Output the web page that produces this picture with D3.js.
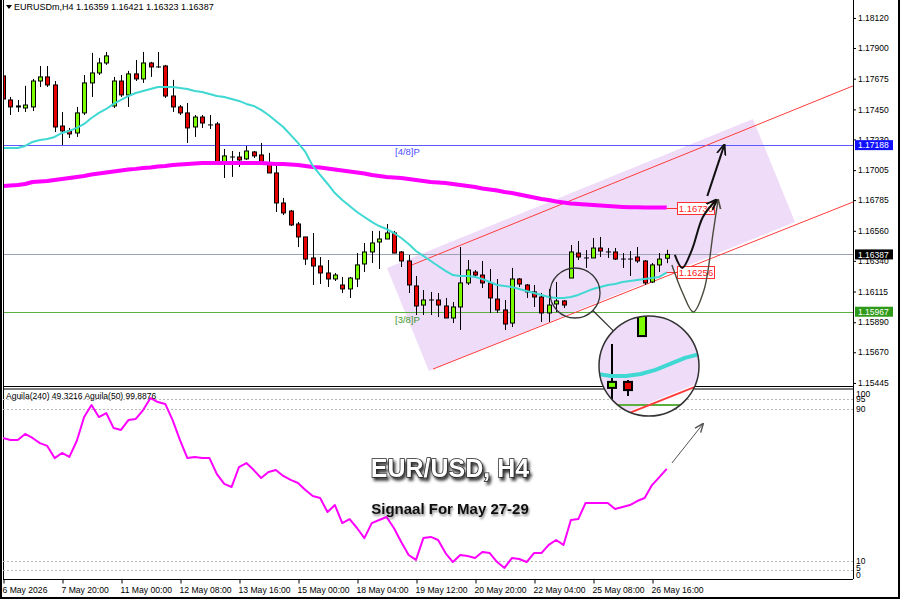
<!DOCTYPE html>
<html><head><meta charset="utf-8">
<script src="https://cdn.jsdelivr.net/npm/d3@7"></script>
<style>
html,body{margin:0;padding:0;background:#fff;}
svg{display:block;font-family:"Liberation Sans",Arial,sans-serif;}
</style></head><body>
<svg id="c" width="900" height="599"></svg>
<script>
// ---------------- DATA ----------------
const symbolHeader = "EURUSDm,H4  1.16359 1.16421 1.16323 1.16387";
const indicatorHeader = "Aguila(240) 49.3216  Aguila(50) 99.8876";
const titleText = "EUR/USD, H4";
const subtitleText = "Signaal For May 27-29";

const priceTicks = [1.18120,1.17900,1.17675,1.17450,1.17230,1.17005,1.16785,1.16560,1.16340,1.16115,1.15890,1.15670,1.15445];
const timeTickBars = [0,8,16,24,32,40,48,56,64,72,80,88];
const timeLabels = ["6 May 2026","7 May 20:00","11 May 00:00","12 May 08:00","13 May 16:00","15 May 00:00","18 May 04:00","19 May 12:00","20 May 20:00","22 May 04:00","25 May 08:00","26 May 16:00"];
const indTicks = [100,95,90,10,5,0];
const indLevels = [95,90,10,5];

const open = [1.17695,1.17519,1.17468,1.17460,1.17468,1.17658,1.17688,1.17629,1.17328,1.17292,
1.17277,1.17424,1.17644,1.17717,1.17790,1.17475,1.17658,1.17556,1.17710,1.17673,
1.17790,1.17761,1.17768,1.17548,1.17468,1.17424,1.17321,1.17394,1.17336,1.17343,
1.17065,1.17101,1.17101,1.17087,1.17138,1.17116,1.17057,1.16984,1.16764,1.16705,
1.16610,1.16515,1.16361,1.16302,1.16251,1.16207,1.16163,1.16134,1.16207,1.16317,
1.16405,1.16478,1.16500,1.16544,1.16405,1.16339,1.16156,1.16016,1.16053,1.16053,
1.16009,1.15921,1.16002,1.16178,1.16258,1.16236,1.16178,1.16060,1.15980,1.15884,
1.16207,1.16163,1.16112,1.16075,1.15958,1.16024,1.16046,1.16214,1.16397,1.16361,
1.16361,1.16434,1.16405,1.16405,1.16353,1.16353,1.16368,1.16339,1.16185,1.16310,
1.16359];
const high = [1.17724,1.17541,1.17519,1.17622,1.17673,1.17768,1.17768,1.17658,1.17431,1.17314,
1.17468,1.17702,1.17864,1.17827,1.17871,1.17688,1.17702,1.17732,1.17812,1.17871,
1.17798,1.17871,1.17776,1.17666,1.17482,1.17497,1.17409,1.17409,1.17409,1.17358,
1.17160,1.17145,1.17138,1.17182,1.17145,1.17204,1.17131,1.17057,1.16801,1.16713,
1.16625,1.16515,1.16544,1.16368,1.16346,1.16251,1.16222,1.16222,1.16397,1.16471,
1.16559,1.16559,1.16610,1.16559,1.16412,1.16383,1.16229,1.16126,1.16112,1.16104,
1.16068,1.16038,1.16441,1.16346,1.16273,1.16339,1.16280,1.16207,1.16053,1.16288,
1.16214,1.16170,1.16163,1.16104,1.16134,1.16185,1.16053,1.16456,1.16485,1.16419,
1.16507,1.16515,1.16434,1.16434,1.16397,1.16412,1.16441,1.16346,1.16324,1.16397,
1.16421];
const low = [1.17504,1.17409,1.17431,1.17431,1.17438,1.17614,1.17614,1.17284,1.17189,1.17240,
1.17248,1.17409,1.17541,1.17702,1.17776,1.17460,1.17541,1.17468,1.17658,1.17644,
1.17688,1.17754,1.17534,1.17431,1.17409,1.17204,1.17248,1.17314,1.17306,1.17057,
1.16947,1.16955,1.17028,1.17079,1.17094,1.17043,1.16984,1.16698,1.16676,1.16595,
1.16441,1.16310,1.16163,1.16170,1.16148,1.16192,1.16104,1.16068,1.16148,1.16258,
1.16324,1.16280,1.16500,1.16397,1.16295,1.16104,1.15943,1.15943,1.15943,1.15928,
1.15921,1.15884,1.15833,1.16163,1.16214,1.16141,1.15958,1.15958,1.15833,1.15855,
1.16148,1.16068,1.16002,1.15892,1.15892,1.15965,1.15994,1.16214,1.16346,1.16288,
1.16361,1.16368,1.16361,1.16346,1.16288,1.16229,1.16324,1.16163,1.16178,1.16258,
1.16323];
const close = [1.17526,1.17468,1.17475,1.17482,1.17658,1.17688,1.17629,1.17321,1.17292,1.17270,
1.17424,1.17644,1.17717,1.17790,1.17842,1.17658,1.17556,1.17710,1.17673,1.17790,
1.17761,1.17761,1.17548,1.17468,1.17424,1.17314,1.17394,1.17350,1.17336,1.17057,
1.17109,1.17101,1.17079,1.17145,1.17109,1.17065,1.16984,1.16764,1.16691,1.16603,
1.16515,1.16353,1.16302,1.16251,1.16207,1.16236,1.16134,1.16214,1.16310,1.16405,
1.16471,1.16500,1.16544,1.16397,1.16339,1.16163,1.16009,1.16053,1.16053,1.16016,
1.15921,1.16002,1.16178,1.16273,1.16236,1.16178,1.16068,1.15980,1.15877,1.16207,
1.16170,1.16112,1.16075,1.15958,1.16016,1.16046,1.16016,1.16405,1.16368,1.16361,
1.16434,1.16412,1.16405,1.16353,1.16353,1.16353,1.16339,1.16178,1.16310,1.16353,
1.16387];

// fast moving average (cyan)
const maFast = [1.17167,1.17167,1.17167,1.17182,1.17211,1.17226,1.17233,1.17248,1.17277,1.17292,
1.17314,1.17343,1.17387,1.17424,1.17453,1.17490,1.17519,1.17548,1.17570,1.17585,
1.17600,1.17614,1.17614,1.17614,1.17607,1.17600,1.17585,1.17578,1.17563,1.17548,
1.17541,1.17526,1.17512,1.17490,1.17475,1.17446,1.17409,1.17365,1.17321,1.17263,
1.17204,1.17138,1.17036,1.16970,1.16905,1.16837,1.16786,1.16742,1.16698,1.16661,
1.16625,1.16595,1.16573,1.16544,1.16507,1.16463,1.16412,1.16376,1.16339,1.16302,
1.16266,1.16236,1.16229,1.16229,1.16222,1.16207,1.16185,1.16163,1.16156,1.16148,
1.16134,1.16119,1.16104,1.16090,1.16075,1.16068,1.16068,1.16075,1.16090,1.16112,
1.16134,1.16148,1.16163,1.16170,1.16185,1.16192,1.16200,1.16207,1.16214,1.16222,
1.16256];
// slow moving average (magenta)
const maSlow = [1.16889,1.16892,1.16896,1.16903,1.16918,1.16922,1.16925,1.16933,1.16940,1.16947,
1.16954,1.16962,1.16973,1.16980,1.16988,1.16995,1.17002,1.17010,1.17014,1.17021,
1.17024,1.17032,1.17035,1.17043,1.17046,1.17050,1.17054,1.17057,1.17057,1.17057,
1.17057,1.17057,1.17057,1.17057,1.17057,1.17057,1.17054,1.17050,1.17050,1.17046,
1.17043,1.17035,1.17028,1.17024,1.17017,1.17010,1.17002,1.16995,1.16988,1.16980,
1.16969,1.16962,1.16954,1.16951,1.16947,1.16940,1.16933,1.16925,1.16918,1.16914,
1.16911,1.16903,1.16896,1.16889,1.16881,1.16870,1.16863,1.16856,1.16845,1.16837,
1.16826,1.16815,1.16804,1.16793,1.16786,1.16775,1.16768,1.16760,1.16757,1.16753,
1.16749,1.16746,1.16742,1.16738,1.16735,1.16733,1.16732,1.16731,1.16731,1.16730,
1.16730];
// Aguila oscillator (lower panel)
const aguila = [74.5,73.4,73.4,76.6,74.5,71.8,70.3,63.9,66.6,64.5,
72.9,85.5,91.8,85.5,87.6,79.7,78.7,83.9,84.5,89.2,
95.5,93.4,92.4,83.9,73.4,63.9,64.5,63.9,63.9,55.5,
50.3,48.7,59.2,61.3,57.6,53.4,56.6,57.6,54.5,52.4,
50.8,47.1,43.9,42.9,35.5,39.2,29.7,31.8,27.1,21.8,
29.7,31.3,32.9,27.1,19.7,12.9,10.3,21.8,22.4,20.8,
13.9,9.2,12.9,12.4,11.3,14.5,13.9,9.2,6.1,11.3,
10.8,9.2,13.9,13.9,18.2,20.8,18.2,31.3,31.8,40.3,
40.3,40.3,40.3,37.1,38.2,39.2,41.3,42.9,49.7,53.9,
58.2];

// horizontal levels: Murrey 4/8, bid, Murrey 3/8
const levelPrices = [1.17188, 1.16387, 1.15967];
const levelNames = ["[4/8]P", "", "[3/8]P"];
// channel drawing objects (bar index, price)
const channelBox = [[52.07,1.16288],[101.69,1.17380],[107.39,1.16625],[57.76,1.15533]];
const channelUpper = [[55.46,1.16310],[115.25,1.17622]];
const channelLower = [[58.31,1.15547],[115.25,1.16771]];
// price tags of the moving averages
const maTags = [1.16730, 1.16256];
// hand-drawn forecast arrows (bar index, price)
const arrowBlack1 = [[91.1,1.16383],[92.1,1.16288],[93.4,1.16419],[94.9,1.16661],[96.7,1.16786]];
const arrowBlack2 = [[95.5,1.16815],[96.7,1.17010],[97.8,1.17189]];
const arrowGray = [[90.7,1.16310],[92.1,1.16112],[93.6,1.15965],[95.05,1.16126],[96.3,1.16551],[96.95,1.16786]];
const arrowInd = [[90.7,61.3],[94.9,81.8]];

// ---------------- CHART ----------------
const svg = d3.select('#c');
const L = 3, R = 853;
const x = d3.scaleLinear().domain([0,100]).range([3,740.5]);
const y = d3.scaleLinear().domain([1.15430,1.18215]).range([385,5]);
const yi = d3.scaleLinear().domain([0,100]).range([579.5,389.5]);
const bars = d3.range(open.length).map(i=>({i,o:open[i],h:high[i],l:low[i],c:close[i]}));

const defs = svg.append('defs');
defs.append('clipPath').attr('id','clipMain').append('rect').attr('x',L).attr('y',1).attr('width',R-L).attr('height',385);
defs.append('clipPath').attr('id','clipInd').append('rect').attr('x',L).attr('y',389).attr('width',R-L).attr('height',190);
const MAG = {sx:575, sy:293, sr:25, bx:649, by:366, br:50};
defs.append('clipPath').attr('id','clipMag').append('circle').attr('cx',MAG.bx).attr('cy',MAG.by).attr('r',MAG.br);
const f1 = defs.append('filter').attr('id','shTitle').attr('x','-20%').attr('y','-40%').attr('width','140%').attr('height','190%');
f1.append('feDropShadow').attr('dx',2).attr('dy',3).attr('stdDeviation',1.6).attr('flood-color','#000').attr('flood-opacity',0.8);
const f2 = defs.append('filter').attr('id','shSub').attr('x','-20%').attr('y','-50%').attr('width','140%').attr('height','200%');
f2.append('feDropShadow').attr('dx',1).attr('dy',2).attr('stdDeviation',1.2).attr('flood-color','#000').attr('flood-opacity',0.45);
function marker(id,color,size){
  defs.append('marker').attr('id',id).attr('viewBox','0 0 10 10').attr('refX',9).attr('refY',5)
    .attr('markerWidth',size).attr('markerHeight',size).attr('markerUnits','userSpaceOnUse').attr('orient','auto')
    .append('path').attr('d','M0,1 L10,5 L0,9').attr('fill','none').attr('stroke',color).attr('stroke-width',1.6);
}
marker('ahBlack','#111',11); marker('ahGray','#4a4a3c',10); marker('ahInd','#555',9);

const lineXY = d3.line().x(d=>x(d[0])).y(d=>y(d[1]));

function drawMain(g){
  g.append('path').attr('d', lineXY(channelBox)+'Z').attr('fill','#efdcf9');
  const lvlColor = ['#5a5aff','#9ba0b2','#5cb040'];
  levelPrices.forEach((v,k)=>{
    g.append('line').attr('x1',L).attr('x2',R).attr('y1',Math.round(y(v))+0.5).attr('y2',Math.round(y(v))+0.5)
      .attr('stroke',lvlColor[k]).attr('stroke-width',1);
  });
  [channelUpper,channelLower].forEach(c=>{
    g.append('path').attr('d',lineXY(c)).attr('stroke','#ff3c3c').attr('stroke-width',1).attr('fill','none');
  });
  // candles
  const cg = g.append('g');
  bars.forEach(b=>{
    const cx = Math.round(x(b.i))+0.5;
    cg.append('line').attr('x1',cx).attr('x2',cx).attr('y1',y(b.h)).attr('y2',y(b.l)).attr('stroke','#000').attr('stroke-width',1);
    const top = y(Math.max(b.o,b.c)), bot = y(Math.min(b.o,b.c));
    if (b.o === b.c){
      cg.append('line').attr('x1',cx-2.5).attr('x2',cx+2.5).attr('y1',top).attr('y2',top).attr('stroke','#000').attr('stroke-width',1);
    } else {
      cg.append('rect').attr('x',cx-2).attr('y',top).attr('width',4).attr('height',Math.max(1,bot-top))
        .attr('fill', b.c>b.o ? '#7cfc00' : '#e60000').attr('stroke','#000').attr('stroke-width',1);
    }
  });
  g.append('path').datum(maSlow).attr('d',d3.line().x((d,i)=>x(i)).y(d=>y(d))).attr('fill','none')
    .attr('stroke','#ff00ff').attr('stroke-width',4).attr('stroke-linejoin','round');
  g.append('path').datum(maFast).attr('d',d3.line().x((d,i)=>x(i)).y(d=>y(d))).attr('fill','none')
    .attr('stroke','#3fd8d2').attr('stroke-width',2).attr('stroke-linejoin','round');
}

// main panel
const gMain = svg.append('g').attr('clip-path','url(#clipMain)');
drawMain(gMain);
// level names
gMain.append('text').attr('x',395).attr('y',y(levelPrices[0])+10).attr('font-size',9.5).attr('fill','#4d4dff').text(levelNames[0]);
gMain.append('text').attr('x',395).attr('y',y(levelPrices[2])+11).attr('font-size',9.5).attr('fill','#3f9a2a').text(levelNames[2]);

// MA price tags
const lastX = x(open.length-1);
maTags.forEach(v=>{
  const yy = Math.round(y(v))+0.5;
  gMain.append('line').attr('x1',lastX).attr('x2',677).attr('y1',yy).attr('y2',yy).attr('stroke','#ff3030');
  gMain.append('rect').attr('x',677.5).attr('y',yy-6).attr('width',37).attr('height',12).attr('fill','#fff').attr('stroke','#ff3030');
  gMain.append('text').attr('x',696).attr('y',yy+3.5).attr('text-anchor','middle').attr('font-size',9.5).attr('fill','#ff2020').text(d3.format('.5f')(v));
});

// forecast arrows
const curve = d3.line().x(d=>x(d[0])).y(d=>y(d[1])).curve(d3.curveCatmullRom.alpha(0.5));
gMain.append('path').attr('d',curve(arrowGray)).attr('fill','none').attr('stroke','#4a4a3c').attr('stroke-width',1.4).attr('marker-end','url(#ahGray)');
gMain.append('path').attr('d',curve(arrowBlack1)).attr('fill','none').attr('stroke','#111').attr('stroke-width',2).attr('marker-end','url(#ahBlack)');
gMain.append('path').attr('d',curve(arrowBlack2)).attr('fill','none').attr('stroke','#111').attr('stroke-width',2).attr('marker-end','url(#ahBlack)');

// header
svg.append('path').attr('d','M6,5 L12,5 L9,9 Z').attr('fill','#000');
svg.append('text').attr('x',14).attr('y',10).attr('font-size',9).attr('fill','#000').text(symbolHeader);

// right price axis
const axR = svg.append('g').attr('transform',`translate(${R},0)`)
  .call(d3.axisRight(y).tickValues(priceTicks).tickFormat(d3.format('.5f')).tickSize(3).tickPadding(2));
axR.select('.domain').remove();
axR.selectAll('text').attr('font-size',8.5).attr('font-family','Liberation Sans, Arial').attr('fill','#000');
axR.selectAll('line').attr('stroke','#000');
svg.append('line').attr('x1',R+0.5).attr('x2',R+0.5).attr('y1',0).attr('y2',579).attr('stroke','#000');

// coloured price tags on the axis
const tagFill = ['#1010ff','#000','#2f9a1a'];
levelPrices.forEach((v,k)=>{
  const yy = y(v);
  svg.append('rect').attr('x',R+2).attr('y',yy-5).attr('width',38).attr('height',10).attr('fill',tagFill[k]);
  svg.append('text').attr('x',R+5).attr('y',yy+3.3).attr('font-size',8.5).attr('fill','#fff').text(d3.format('.5f')(v));
});

// panel borders
svg.append('line').attr('x1',L).attr('x2',R).attr('y1',386.5).attr('y2',386.5).attr('stroke','#000').attr('stroke-width',1.2);
svg.append('line').attr('x1',L).attr('x2',R).attr('y1',389).attr('y2',389).attr('stroke','#000').attr('stroke-width',1.2);
svg.append('line').attr('x1',L).attr('x2',R).attr('y1',579.5).attr('y2',579.5).attr('stroke','#000');
svg.append('line').attr('x1',L+0.5).attr('x2',L+0.5).attr('y1',0).attr('y2',580).attr('stroke','#000');

// indicator panel
const gInd = svg.append('g').attr('clip-path','url(#clipInd)');
indLevels.forEach(v=>{
  gInd.append('line').attr('x1',L).attr('x2',R).attr('y1',Math.round(yi(v))+0.5).attr('y2',Math.round(yi(v))+0.5)
    .attr('stroke','#b8b8b8').attr('stroke-dasharray','2,2');
});
gInd.append('path').datum(aguila).attr('d',d3.line().x((d,i)=>x(i)).y(d=>yi(d))).attr('fill','none')
  .attr('stroke','#ff00ff').attr('stroke-width',2).attr('stroke-linejoin','round');
gInd.append('path').attr('d',d3.line().x(d=>x(d[0])).y(d=>yi(d[1]))(arrowInd)).attr('stroke','#555').attr('stroke-width',1)
  .attr('fill','none').attr('marker-end','url(#ahInd)');
svg.append('text').attr('x',6).attr('y',399).attr('font-size',8.5).attr('fill','#000').text(indicatorHeader);

const indNudge = {100:4.5, 95:0, 90:0, 10:0, 5:-2, 0:-5};
const axI = svg.append('g').attr('transform',`translate(${R},0)`)
  .call(d3.axisRight(yi).tickValues(indTicks).tickFormat(d3.format('d')).tickSize(0).tickPadding(3));
axI.select('.domain').remove();
axI.selectAll('text').attr('font-size',8.5).attr('font-family','Liberation Sans, Arial').attr('fill','#000')
  .attr('dy',function(d){return (0.32*8.5+indNudge[d])+'px';});

// bottom time axis
const axB = svg.append('g').attr('transform','translate(0,579.5)')
  .call(d3.axisBottom(x).tickValues(timeTickBars).tickFormat((d,i)=>timeLabels[i]).tickSize(4).tickPadding(3));
axB.select('.domain').remove();
axB.selectAll('line').attr('stroke','#000').attr('transform','translate(0.5,0)');
axB.selectAll('text').attr('font-size',8.6).attr('font-family','Liberation Sans, Arial').attr('fill','#000')
  .attr('text-anchor','start').attr('dx','-1px');

// magnifier
const smallC = svg.append('circle').attr('cx',MAG.sx).attr('cy',MAG.sy).attr('r',MAG.sr).attr('fill','none').attr('stroke','#333').attr('stroke-width',1.3);
const ang = Math.atan2(MAG.by-MAG.sy, MAG.bx-MAG.sx);
svg.append('line').attr('x1',MAG.sx+MAG.sr*Math.cos(ang)).attr('y1',MAG.sy+MAG.sr*Math.sin(ang))
  .attr('x2',MAG.bx-MAG.br*Math.cos(ang)).attr('y2',MAG.by-MAG.br*Math.sin(ang)).attr('stroke','#333').attr('stroke-width',1.3);
const gMagOuter = svg.append('g').attr('clip-path','url(#clipMag)');
gMagOuter.append('circle').attr('cx',MAG.bx).attr('cy',MAG.by).attr('r',MAG.br).attr('fill','#fff');
const k = MAG.br/MAG.sr;
const gMag = gMagOuter.append('g').attr('transform',`translate(${MAG.bx},${MAG.by}) scale(${k}) translate(${-MAG.sx},${-MAG.sy})`);
drawMain(gMag);
svg.append('circle').attr('cx',MAG.bx).attr('cy',MAG.by).attr('r',MAG.br).attr('fill','none').attr('stroke','#333').attr('stroke-width',1.5);

// titles
svg.append('text').attr('x',450).attr('y',477).attr('text-anchor','middle').attr('font-size',25).attr('font-weight','bold')
  .attr('fill','#fff').attr('stroke','#1a1a1a').attr('stroke-width',1.4).attr('paint-order','stroke')
  .attr('filter','url(#shTitle)').text(titleText);
svg.append('text').attr('x',450).attr('y',514).attr('text-anchor','middle').attr('font-size',15).attr('font-weight','bold')
  .attr('fill','#111').attr('filter','url(#shSub)').text(subtitleText);

// window frame
svg.append('rect').attr('x',0).attr('y',0).attr('width',2).attr('height',599).attr('fill','#000');
svg.append('rect').attr('x',0).attr('y',597).attr('width',900).attr('height',2).attr('fill','#000');
svg.append('rect').attr('x',898).attr('y',0).attr('width',2).attr('height',599).attr('fill','#000');
</script></body></html>
